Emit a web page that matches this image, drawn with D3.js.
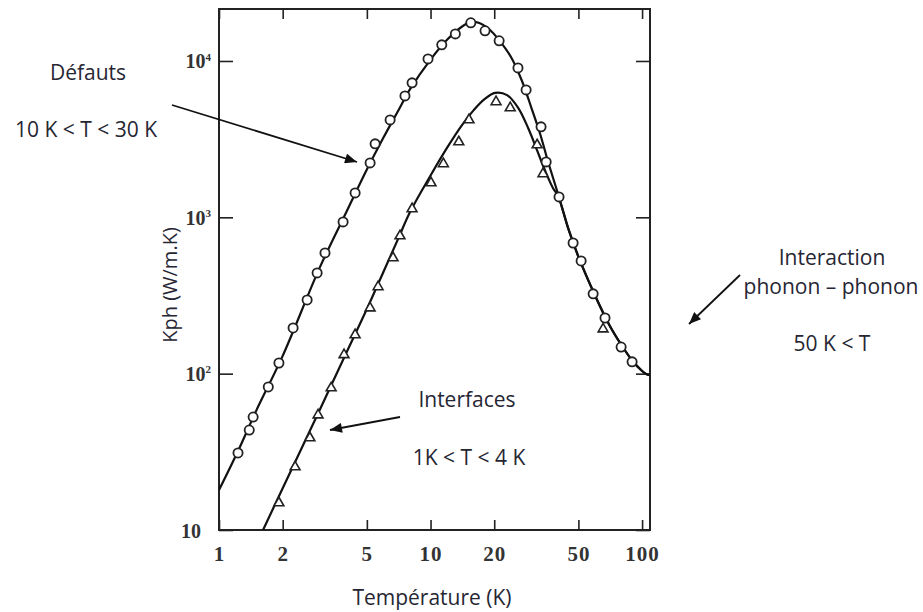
<!DOCTYPE html>
<html><head><meta charset="utf-8">
<script src="https://cdn.jsdelivr.net/npm/d3@7"></script>
<style>
body{margin:0;background:#fff;}
svg{display:block;}
.ann{font-family:"Open Sans",sans-serif;fill:#262633;}
</style></head>
<body>
<svg id="c" width="923" height="612"></svg>
<script>
// Data
const circleT = [1.23,1.39,1.45,1.71,1.92,2.24,2.61,2.91,3.17,3.86,4.40,5.18,5.47,6.44,7.57,8.18,9.73,11.3,13.1,15.5,18.1,21.1,25.9,28.3,33.3,35.2,40.5,47.2,51.5,58.7,66.8,79.6,89.7];
const circleK = [31.1,43.6,52.8,82.2,117,196,296,441,592,935,1433,2229,2951,4199,5980,7244,10310,12680,14900,17540,15600,13460,9030,6530,3790,2262,1351,685,526,324,227,148,119];
const triT = [1.92,2.29,2.69,2.94,3.39,3.90,4.40,5.18,5.65,6.65,7.17,8.18,10.05,11.5,13.6,15.2,20.4,23.8,31.9,34.0,65.4];
const triK = [14.9,25.3,38.8,54.4,81.0,132,177,263,359,550,760,1132,1660,2197,3036,4199,5475,5010,2904,1896,193];
// fitted curves
const fitCircleT = [1,1.23,1.5,2,3,4,5,6,7,8,10,12,14,15.5,17,19,21,24,27,30,33,36,40,45,50,60,70,80,90,100,105,109];
const fitCircleK = [18,32,58,130,480,1080,2020,3250,4750,6600,10200,13700,16500,17700,17500,15900,13700,10600,7500,5000,3400,2250,1420,830,560,315,205,152,121,104,99,98];
const fitTriT = [1.615,2,3,4,5,6,7,8,10,12,14,16,18,20.2,23,26,29,32,35,38,40,45,50,60,70,80,90,100,105,109];
const fitTriK = [10,18.5,59,136,259,450,720,1080,1850,2800,3850,4850,5700,6250,6050,5000,3700,2650,1950,1530,1380,830,560,315,205,152,121,104,99,98];
const xTicks = [1,2,5,10,20,50,100];
const xTickLabels = ["1","2","5","10","20","50","100"];
const yTicks = [10,100,1000,10000];
const yTickExp = ["","2","3","4"];

const svg = d3.select("#c");
const x = d3.scaleLog().domain([1,109]).range([219,650]);
const y = d3.scaleLog().domain([10,21500]).range([530,9]);

svg.append("clipPath").attr("id","pc").append("rect")
  .attr("x",219).attr("y",9).attr("width",431).attr("height",521);

// frame
svg.append("rect").attr("x",219).attr("y",9).attr("width",431).attr("height",521)
  .attr("fill","none").attr("stroke","#222").attr("stroke-width",2);

// axes
const serif = '"Liberation Serif","DejaVu Serif",serif';
const gb = svg.append("g").attr("transform","translate(0,530)")
  .call(d3.axisBottom(x).tickValues(xTicks).tickSize(-10).tickSizeOuter(0).tickPadding(16).tickFormat((d,i)=>xTickLabels[i]));
const gt = svg.append("g").attr("transform","translate(0,9)")
  .call(d3.axisTop(x).tickValues(xTicks).tickSize(-10).tickSizeOuter(0).tickFormat(""));
const gl = svg.append("g").attr("transform","translate(219,0)")
  .call(d3.axisLeft(y).tickValues(yTicks).tickSize(-14).tickSizeOuter(0).tickPadding(18).tickFormat(""));
const gr = svg.append("g").attr("transform","translate(650,0)")
  .call(d3.axisRight(y).tickValues(yTicks).tickSize(-14).tickSizeOuter(0).tickFormat(""));
[gb,gt,gl,gr].forEach(g=>{
  g.select(".domain").remove();
  g.selectAll(".tick line").attr("stroke","#222").attr("stroke-width",1.6);
});
gb.selectAll(".tick text").attr("font-family",serif).attr("font-size",21).attr("font-weight","bold")
  .attr("fill","#333").attr("letter-spacing",1);
gl.selectAll(".tick").each(function(d,i){
  const t = d3.select(this).append("text").attr("font-family",serif).attr("font-size",20)
    .attr("font-weight","bold").attr("fill","#333").attr("dy","0.35em")
    .attr("text-anchor","end").attr("x", yTickExp[i] ? -8 : -18);
  t.append("tspan").text("10");
  if (yTickExp[i]) t.append("tspan").attr("font-size",11).attr("dy","-0.7em").text(yTickExp[i]);
});

// curves
const line = d3.line().x(d=>x(d[0])).y(d=>y(d[1])).curve(d3.curveCatmullRom.alpha(0.5));
const pc = svg.append("g").attr("clip-path","url(#pc)");
pc.append("path").datum(fitCircleT.map((t,i)=>[t,fitCircleK[i]])).attr("d",line)
  .attr("fill","none").attr("stroke","#111").attr("stroke-width",2.2);
pc.append("path").datum(fitTriT.map((t,i)=>[t,fitTriK[i]])).attr("d",line)
  .attr("fill","none").attr("stroke","#111").attr("stroke-width",2.2);

// markers
pc.selectAll("circle.m").data(circleT.map((t,i)=>[t,circleK[i]])).join("circle")
  .attr("class","m").attr("cx",d=>x(d[0])).attr("cy",d=>y(d[1])).attr("r",4.6)
  .attr("fill","#fff").attr("stroke","#222").attr("stroke-width",1.8);
const tri = d3.symbol().type(d3.symbolTriangle).size(42);
pc.selectAll("path.t").data(triT.map((t,i)=>[t,triK[i]])).join("path")
  .attr("class","t").attr("d",tri).attr("transform",d=>`translate(${x(d[0])},${y(d[1])})`)
  .attr("fill","#fff").attr("stroke","#222").attr("stroke-width",1.6);

// axis titles
svg.append("text").attr("class","ann").attr("x",432).attr("y",605).attr("text-anchor","middle")
  .attr("font-size",21).text("Température (K)");
svg.append("text").attr("class","ann").attr("transform","translate(177,285) rotate(-90)")
  .attr("text-anchor","middle").attr("font-size",20).text("Kph (W/m.K)");

// annotations
const defs = svg.append("defs");
defs.append("marker").attr("id","ah").attr("viewBox","0 0 12 10").attr("refX",12).attr("refY",5)
  .attr("markerWidth",13).attr("markerHeight",10).attr("markerUnits","userSpaceOnUse").attr("orient","auto")
  .append("path").attr("d","M0,0 L12,5 L0,10 Z").attr("fill","#111");
function arrow(x1,y1,x2,y2){
  svg.append("line").attr("x1",x1).attr("y1",y1).attr("x2",x2).attr("y2",y2)
    .attr("stroke","#111").attr("stroke-width",1.8).attr("marker-end","url(#ah)");
}
function label(tx,ty,s){
  svg.append("text").attr("class","ann").attr("x",tx).attr("y",ty).attr("text-anchor","middle")
    .attr("font-size",21).text(s);
}
label(88,80,"Défauts");
label(86,137,"10 K < T < 30 K");
label(467,407,"Interfaces");
label(469,465,"1K < T < 4 K");
label(832,265,"Interaction");
label(831,294,"phonon – phonon");
label(832,351,"50 K < T");
arrow(172,105,357,162);
arrow(400,417,330,430);
arrow(740,275,689,324);
</script>
</body></html>
